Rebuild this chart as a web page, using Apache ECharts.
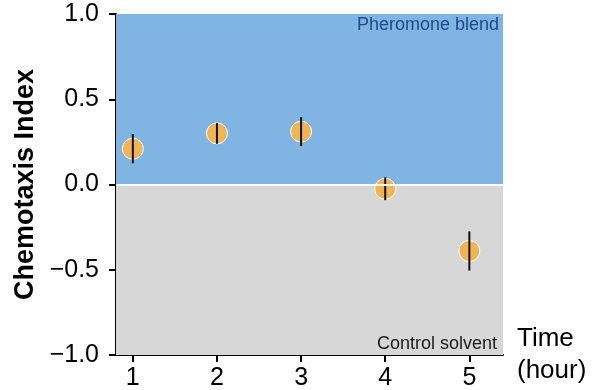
<!DOCTYPE html>
<html>
<head>
<meta charset="utf-8">
<script src="https://cdn.jsdelivr.net/npm/echarts@6/dist/echarts.min.js"></script>
<style>
  html, body { margin: 0; padding: 0; background: #fff; }
  #chart { width: 593px; height: 390px; }
</style>
</head>
<body>
<div id="chart"></div>
<script>
// Chemotaxis index over time (mean and error)
const hours = [1, 2, 3, 4, 5];
const chemotaxisIndex = [0.21, 0.30, 0.31, -0.025, -0.39];
const errorSize = [0.086, 0.061, 0.085, 0.067, 0.115];
const zoneLabels = ['Pheromone blend', 'Control solvent'];

const font = '"Liberation Sans", Arial, Helvetica, sans-serif';

const points = hours.map((h, i) => [h, chemotaxisIndex[i]]);
const bars = hours.map((h, i) => [h, chemotaxisIndex[i] - errorSize[i], chemotaxisIndex[i] + errorSize[i]]);

const chart = echarts.init(document.getElementById('chart'));

const option = {
  backgroundColor: '#fff',
  animation: false,
  grid: { left: 116, right: 90, top: 14, bottom: 35, containLabel: false, outerBoundsMode: 'none' },
  xAxis: {
    type: 'value',
    min: 0.8,
    max: 5.4,
    name: 'Time\n(hour)',
    nameLocation: 'end',
    nameGap: 14,
    nameTextStyle: {
      fontFamily: font, fontSize: 26, color: '#000',
      align: 'left', verticalAlign: 'middle', lineHeight: 32,
      padding: [16, 0, 0, 0]
    },
    splitLine: { show: false },
    axisLine: { onZero: false, lineStyle: { color: '#000', width: 2 } },
    axisTick: { length: 7, lineStyle: { color: '#000', width: 2 }, customValues: hours },
    axisLabel: { customValues: hours, fontFamily: font, fontSize: 25, color: '#000', margin: 11 }
  },
  yAxis: {
    type: 'value',
    min: -1,
    max: 1,
    interval: 0.5,
    name: 'Chemotaxis Index',
    nameLocation: 'middle',
    nameGap: 76,
    nameTextStyle: { fontFamily: font, fontSize: 27, fontWeight: 'bold', color: '#000' },
    splitLine: { show: false },
    axisLine: { show: true, onZero: false, lineStyle: { color: '#000', width: 2 } },
    axisTick: { show: true, length: 7, lineStyle: { color: '#000', width: 2 } },
    axisLabel: {
      fontFamily: font, fontSize: 25, color: '#000', margin: 17,
      formatter: v => (v < 0 ? '\u2212' : '') + Math.abs(v).toFixed(1)
    }
  },
  series: [
    {
      type: 'scatter',
      data: points,
      symbol: 'circle',
      symbolSize: 21,
      z: 3,
      itemStyle: { color: '#f0b456', opacity: 1, borderColor: '#fff', borderWidth: 1 },
      markArea: {
        silent: true,
        itemStyle: { opacity: 1 },
        label: { show: true, formatter: '{b}', fontFamily: font, fontSize: 18 },
        data: [
          [
            { name: zoneLabels[0], yAxis: 0, itemStyle: { color: '#80b4e3', opacity: 1 },
              label: { position: 'insideTopRight', color: '#1f4a8a', distance: 2, padding: [0, 2, 0, 0] } },
            { yAxis: 1 }
          ],
          [
            { name: zoneLabels[1], yAxis: -1, itemStyle: { color: '#d7d7d7', opacity: 1 },
              label: { position: 'insideBottomRight', color: '#1a1a1a', distance: 2, padding: [0, 4, 0, 0] } },
            { yAxis: 0 }
          ]
        ]
      },
      markLine: {
        silent: true,
        symbol: 'none',
        label: { show: false },
        lineStyle: { color: '#fff', width: 2, type: 'solid' },
        data: [{ yAxis: 0 }]
      }
    },
    {
      type: 'custom',
      z: 4,
      data: bars,
      renderItem: (params, api) => {
        const lo = api.coord([api.value(0), api.value(1)]);
        const hi = api.coord([api.value(0), api.value(2)]);
        return {
          type: 'line',
          shape: { x1: lo[0], y1: lo[1], x2: hi[0], y2: hi[1] },
          style: { stroke: '#111', lineWidth: 2 }
        };
      }
    }
  ]
};

chart.setOption(option);
</script>
</body>
</html>
